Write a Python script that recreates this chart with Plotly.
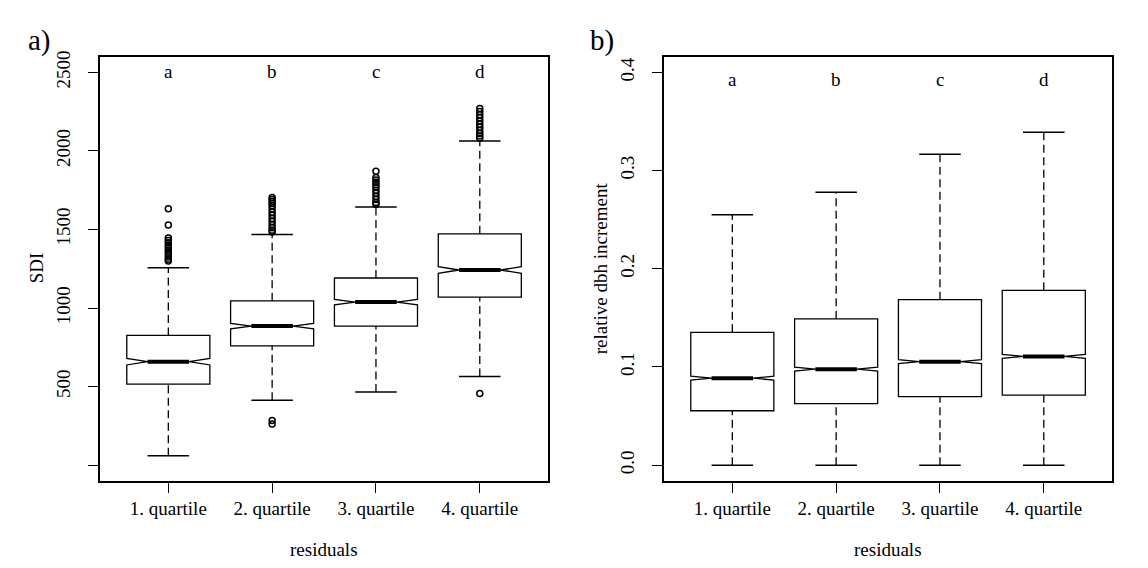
import plotly.graph_objects as go
from plotly.subplots import make_subplots

# categories (x positions 1..4)
groups = ['1. quartile', '2. quartile', '3. quartile', '4. quartile']
letters = ['a', 'b', 'c', 'd']
pos = [1, 2, 3, 4]

# a) SDI box statistics
sdi_low = [61, 413, 466, 564]
sdi_q1 = [516, 759, 885, 1070]
sdi_med = [659, 885, 1038, 1242]
sdi_q3 = [826, 1046, 1191, 1472]
sdi_high = [1256, 1468, 1642, 2062]
sdi_notch = [21, 17, 17, 21]
sdi_out = [
    [1632, 1529, 1445, 1430, 1415, 1400, 1385, 1370, 1355, 1340, 1325, 1310, 1300],
    [1703, 1690, 1678, 1665, 1650, 1630, 1610, 1590, 1570, 1550, 1530, 1510, 1495, 1483, 285, 262],
    [1871, 1830, 1815, 1800, 1785, 1770, 1750, 1730, 1710, 1690, 1672, 1660],
    [2270, 2250, 2230, 2210, 2190, 2170, 2150, 2130, 2110, 2095, 2080, 457],
]

# b) relative dbh increment
dbh_low = [0.0, 0.0, 0.0, 0.0]
dbh_q1 = [0.0554, 0.0627, 0.0698, 0.0712]
dbh_med = [0.0886, 0.0977, 0.1054, 0.1107]
dbh_q3 = [0.1352, 0.149, 0.1685, 0.178]
dbh_high = [0.255, 0.278, 0.3165, 0.339]
dbh_notch = [0.002, 0.002, 0.002, 0.002]

sdi_ticks = [0, 500, 1000, 1500, 2000, 2500]
sdi_ticktext = ['', '500', '1000', '1500', '2000', '2500']
dbh_ticks = [0.0, 0.1, 0.2, 0.3, 0.4]
dbh_ticktext = ['0.0', '0.1', '0.2', '0.3', '0.4']

FONT = 'Liberation Serif'
FS = 19
bw = 0.8  # box width
lw = 1.3

# page body keeps an 8px margin, so the figure is drawn 8px smaller
W, H, OFF = 1140, 560, 8


def fx(px_):
    return (px_ - OFF) / W


def fy(py_):
    return 1 - (py_ - OFF) / H


fig = make_subplots(rows=1, cols=2)


def add_panel(col, low, q1, med, q3, high, notch, outl=None):
    for i, p in enumerate(pos):
        fig.add_trace(go.Box(
            x=[p], q1=[q1[i]], median=[med[i]], q3=[q3[i]],
            lowerfence=[q1[i]], upperfence=[q3[i]],
            notched=True, notchspan=[notch[i]], notchwidth=0.25,
            width=bw, whiskerwidth=0, boxpoints=False,
            fillcolor='white', line=dict(color='black', width=lw),
            showlegend=False, hoverinfo='skip'), row=1, col=col)
    # dashed whiskers
    wx, wy = [], []
    for i, p in enumerate(pos):
        wx += [p, p, None, p, p, None]
        wy += [low[i], q1[i], None, q3[i], high[i], None]
    fig.add_trace(go.Scatter(x=wx, y=wy, mode='lines',
                             line=dict(color='black', width=lw, dash='8px,4.5px'),
                             showlegend=False, hoverinfo='skip'), row=1, col=col)
    # staples and bold medians
    sx, sy, mx, my = [], [], [], []
    for i, p in enumerate(pos):
        sx += [p - bw / 4, p + bw / 4, None, p - bw / 4, p + bw / 4, None]
        sy += [low[i], low[i], None, high[i], high[i], None]
        mx += [p - bw / 4, p + bw / 4, None]
        my += [med[i], med[i], None]
    fig.add_trace(go.Scatter(x=sx, y=sy, mode='lines',
                             line=dict(color='black', width=lw + 0.2),
                             showlegend=False, hoverinfo='skip'), row=1, col=col)
    fig.add_trace(go.Scatter(x=mx, y=my, mode='lines',
                             line=dict(color='black', width=4),
                             showlegend=False, hoverinfo='skip'), row=1, col=col)
    if outl:
        ox, oy = [], []
        for i, p in enumerate(pos):
            ox += [p] * len(outl[i])
            oy += outl[i]
        fig.add_trace(go.Scatter(x=ox, y=oy, mode='markers',
                                 marker=dict(symbol='circle-open', size=6,
                                             color='black', line=dict(width=1.5)),
                                 showlegend=False, hoverinfo='skip'), row=1, col=col)


add_panel(1, sdi_low, sdi_q1, sdi_med, sdi_q3, sdi_high, sdi_notch, sdi_out)
add_panel(2, dbh_low, dbh_q1, dbh_med, dbh_q3, dbh_high, dbh_notch)

# significance letters
for i, p in enumerate(pos):
    fig.add_annotation(x=p, y=2504, xref='x', yref='y', text=letters[i],
                       showarrow=False, font=dict(family=FONT, size=FS, color='black'))
    fig.add_annotation(x=p, y=0.393, xref='x2', yref='y2', text=letters[i],
                       showarrow=False, font=dict(family=FONT, size=FS, color='black'))

axis_common = dict(showline=True, mirror=True, linecolor='black', linewidth=1.5,
                   ticks='outside', ticklen=10, tickwidth=1.3, tickcolor='black',
                   showgrid=False, zeroline=False,
                   tickfont=dict(family=FONT, size=FS, color='black'))

fig.update_xaxes(range=[0.342, 4.657], tickvals=pos, ticktext=groups, **axis_common)
fig.update_yaxes(tickangle=-90, ticklabelstandoff=11, **axis_common)
fig.update_layout(
    xaxis=dict(domain=[fx(100), fx(548)]),
    xaxis2=dict(domain=[fx(664), fx(1112)]),
    yaxis=dict(domain=[fy(480), fy(51)], range=[-100, 2600],
               tickvals=sdi_ticks, ticktext=sdi_ticktext),
    yaxis2=dict(domain=[fy(480), fy(51)], range=[-0.0161, 0.4161],
                tickvals=dbh_ticks, ticktext=dbh_ticktext),
    width=W, height=H,
    margin=dict(l=0, r=0, t=0, b=0),
    plot_bgcolor='white', paper_bgcolor='white',
    font=dict(family=FONT, size=FS, color='black'),
)

# axis titles and panel labels (page pixel positions)
labels = [
    ('SDI', 36, 265, FS, -90),
    ('relative dbh increment', 600, 265, FS, -90),
    ('residuals', 324, 549, FS, 0),
    ('residuals', 888, 549, FS, 0),
    ('a)', 39, 35, 29, 0),
    ('b)', 602, 35, 29, 0),
]
for txt, px_, py_, sz, ang in labels:
    fig.add_annotation(x=fx(px_), y=fy(py_), xref='paper', yref='paper',
                       text=txt, showarrow=False, textangle=ang,
                       xanchor='center', yanchor='middle',
                       font=dict(family=FONT, size=sz, color='black'))

fig.write_html("out.html")
